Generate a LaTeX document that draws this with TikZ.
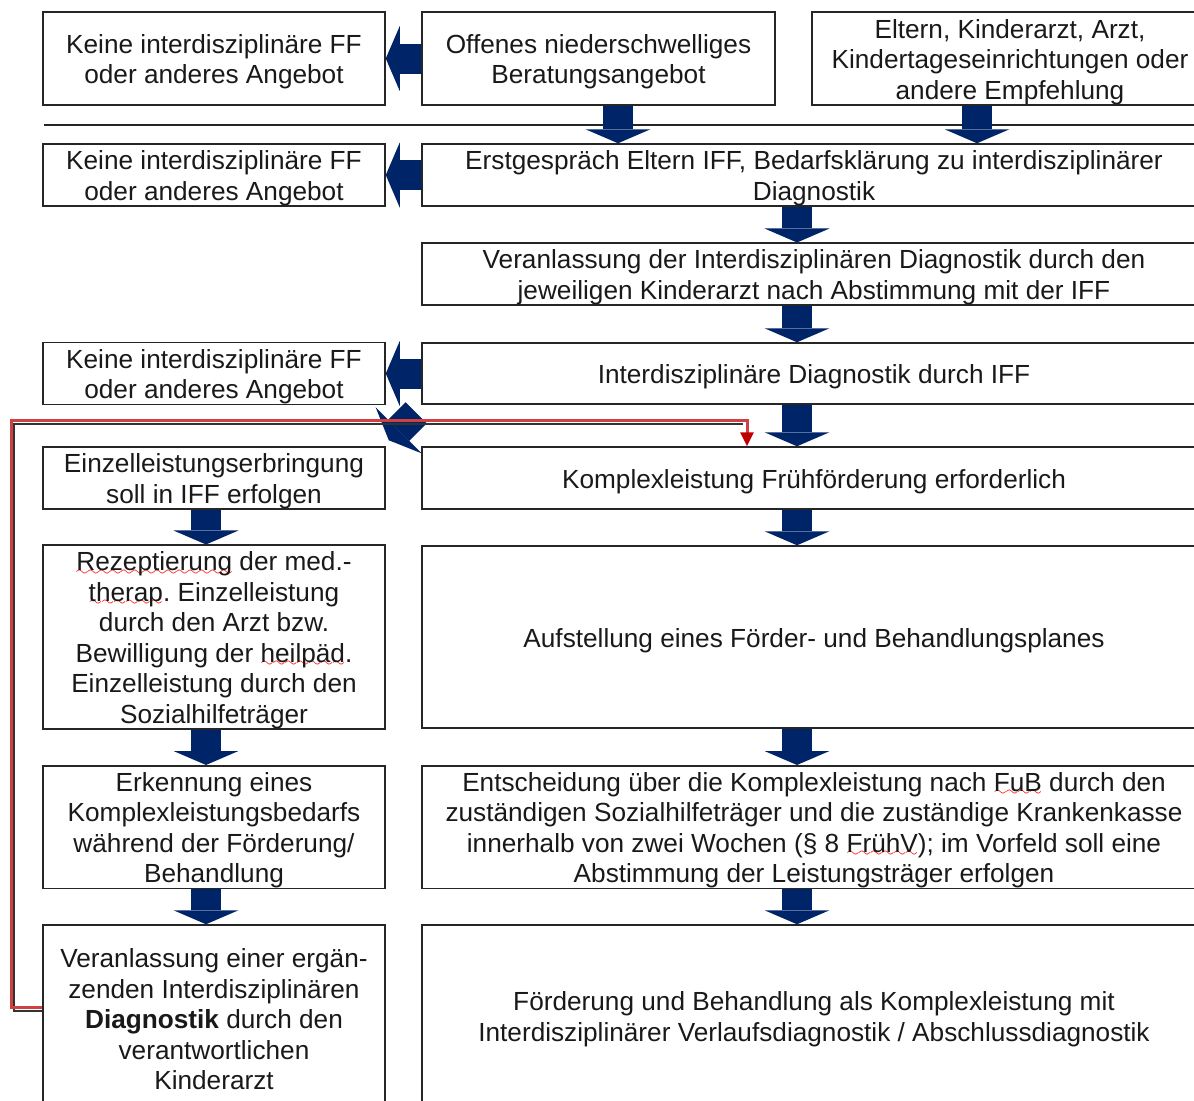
\documentclass[tikz,border=0pt]{standalone}
\usepackage{fontspec}
\setmainfont{Liberation Sans}
\usepackage{tikz}
\usetikzlibrary{arrows.meta}
\definecolor{pfeilblau}{RGB}{0,36,104}
\definecolor{rotlinie}{RGB}{208,64,64}
\definecolor{rotspitze}{RGB}{192,0,0}
\font\wellfont=lasy7
\newcommand{\wellig}[1]{\leavevmode\setbox0\hbox{#1}\rlap{\lower2.2pt\hbox to \wd0{\color{red}\xleaders\hbox{\wellfont\char58}\hfil}}#1}
\newcommand{\schrift}{\fontsize{13.1}{15.25}\selectfont\frenchspacing}
\newcommand{\hoch}{\rule{0pt}{12.8pt}}

\tikzset{
	kasten/.style={draw=black!85, line width=0.75pt, align=center, inner sep=0pt, font=\schrift, text=black!90,
		execute at begin node={\hoch}},
	links/.style={kasten, minimum width=171pt},
	rechts/.style={kasten, minimum width=392pt},
	blockpfeil/.style={pfeilblau, line width=15pt, -{Triangle[width=32.5pt, length=7pt, line width=0pt]}},
	rotpfeil/.style={rotlinie, line width=1.5pt, -{Triangle[width=6.5pt, length=7pt, color=rotspitze]}},
	schatten/.style={black!80, line width=1pt}
}

\begin{document}
\begin{tikzpicture}[x=0.5pt, y=-0.5pt]
	\useasboundingbox (0,0) rectangle (1194,1100);
	\clip (0,0) rectangle (1194,1100);

	% Kopfzeile
	\node[links, minimum height=46.5pt] (k1) at (214,58.5) {\hoch Keine interdisziplinäre FF\\oder anderes Angebot};
	\node[kasten, minimum width=176.5pt, minimum height=46.5pt] (offen) at (598.5,58.5) {\hoch Offenes niederschwelliges\\Beratungsangebot};
	\node[kasten, minimum width=198pt, minimum height=46.5pt] (eltern) at (1010,58.5) {\hoch Eltern, Kinderarzt, Arzt,\\Kindertageseinrichtungen oder\\andere Empfehlung};
	\draw[black!85, line width=0.75pt] (44,125) -- (1200,125);

	% rechte Spalte
	\node[rechts, minimum height=31pt] (erst) at (814,175) {\hoch Erstgespräch Eltern IFF, Bedarfsklärung zu interdisziplinärer\\Diagnostik};
	\node[rechts, minimum height=30pt] (veran) at (814,274) {\hoch Veranlassung der Interdisziplinären Diagnostik durch den\\jeweiligen Kinderarzt nach Abstimmung mit der IFF};
	\node[rechts, minimum height=30.5pt] (diag) at (814,373.5) {Interdisziplinäre Diagnostik durch IFF};
	\node[rechts, minimum height=31pt] (komplex) at (814,478) {Komplexleistung Frühförderung erforderlich};
	\node[rechts, minimum height=91pt] (plan) at (814,637) {Aufstellung eines Förder- und Behandlungsplanes};
	\node[rechts, minimum height=61pt] (entsch) at (814,827) {\hoch Entscheidung über die Komplexleistung nach \wellig{FuB} durch den\\zuständigen Sozialhilfeträger und die zuständige Krankenkasse\\innerhalb von zwei Wochen (§ 8 \wellig{FrühV}); im Vorfeld soll eine\\Abstimmung der Leistungsträger erfolgen};
	\node[rechts, minimum height=91pt] (foerd) at (814,1016) {\hoch Förderung und Behandlung als Komplexleistung mit\\Interdisziplinärer Verlaufsdiagnostik / Abschlussdiagnostik};

	% linke Spalte
	\node[links, minimum height=31pt] (k2) at (214,175) {\hoch Keine interdisziplinäre FF\\oder anderes Angebot};
	\node[links, minimum height=30.5pt] (k3) at (214,373.5) {\hoch Keine interdisziplinäre FF\\oder anderes Angebot};
	\node[links, minimum height=31pt] (einzel) at (214,478) {\hoch Einzelleistungserbringung\\soll in IFF erfolgen};
	\node[links, minimum height=91pt] (rezept) at (214,637) {\hoch\wellig{Rezeptierung} der med.-\\\wellig{therap}. Einzelleistung\\durch den Arzt bzw.\\Bewilligung der \wellig{heilpäd}.\\Einzelleistung durch den\\Sozialhilfeträger};
	\node[links, minimum height=61pt] (erkenn) at (214,827) {\hoch Erkennung eines\\Komplexleistungsbedarfs\\während der Förderung/\\Behandlung};
	\node[links, minimum height=91pt] (ergaenz) at (214,1016) {\hoch Veranlassung einer ergän-\\zenden Interdisziplinären\\\textbf{Diagnostik} durch den\\verantwortlichen\\Kinderarzt};

	% Pfeile
	\coordinate (so) at (618,0);
	\coordinate (se) at (977,0);
	\coordinate (sr) at (797,0);
	\coordinate (sl) at (206,0);
	\draw[blockpfeil] (offen.south -| so) -- (erst.north -| so);
	\draw[blockpfeil] (eltern.south -| se) -- (erst.north -| se);
	\foreach \a/\b in {erst/veran, veran/diag, diag/komplex, komplex/plan, plan/entsch, entsch/foerd}
		\draw[blockpfeil] (\a.south -| sr) -- (\b.north -| sr);
	\foreach \a/\b in {einzel/rezept, rezept/erkenn, erkenn/ergaenz}
		\draw[blockpfeil] (\a.south -| sl) -- (\b.north -| sl);
	\foreach \a/\b in {offen/k1, erst/k2, diag/k3}
		\draw[blockpfeil] (\a.west) -- (\b.east);
	\coordinate (dvon) at ([shift={(-5,8)}]diag.south west);
	\coordinate (dnach) at ([shift={(3,-6)}]einzel.north east);
	\draw[blockpfeil] (dvon) -- (dnach);

	% Ruecksprung
	\coordinate (rl) at (11,420);
	\coordinate (rr) at (747,0);
	\draw[schatten] ([yshift=2.5pt]ergaenz.west) -| (14,424) -- (743,424);
	\draw[rotpfeil] ([yshift=4.5pt]ergaenz.west) -| (rl) -| (komplex.north -| rr);
\end{tikzpicture}
\end{document}
